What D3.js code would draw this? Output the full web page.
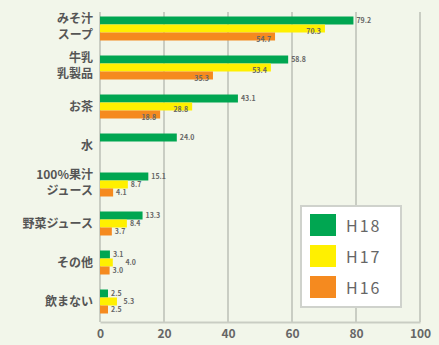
<!DOCTYPE html>
<html>
<head>
<meta charset="utf-8">
<script src="https://cdn.jsdelivr.net/npm/d3@7"></script>
<style>
  body { margin: 0; background: #f2f6ea; }
  text { font-family: "Noto Sans CJK JP", "Noto Sans", sans-serif; }
</style>
</head>
<body>
<div id="chart"></div>
<script>
// categories (two-line labels split by "\n")
var categories = ["みそ汁\nスープ", "牛乳\n乳製品", "お茶", "水", "100%果汁\nジュース", "野菜ジュース", "その他", "飲まない"];
var seriesNames = ["H18", "H17", "H16"];
var h18 = [79.2, 58.8, 43.1, 24.0, 15.1, 13.3, 3.1, 2.5];
var h17 = [70.3, 53.4, 28.8, null, 8.7, 8.4, 4.0, 5.3];
var h16 = [54.7, 35.3, 18.8, null, 4.1, 3.7, 3.0, 2.5];
var xTicks = [0, 20, 40, 60, 80, 100];
var colors = ["#00a651", "#fff000", "#f58a1f"];

var svgWidth = 439;
var svgHeight = 345;

var svg = d3.select("#chart")
  .append("svg")
  .attr("width", svgWidth)
  .attr("height", svgHeight);

svg.append("rect")
  .attr("width", svgWidth)
  .attr("height", svgHeight)
  .attr("fill", "#f2f6ea");

var x = d3.scaleLinear().domain([0, 100]).range([100, 420]);
var y = d3.scaleBand().domain(categories).range([10, 320]).paddingInner(0.385).paddingOuter(0.167);
var ySub = d3.scaleBand().domain(seriesNames).range([0, y.bandwidth()]);

// gridlines
svg.append("g")
  .selectAll("line")
  .data(xTicks)
  .enter()
  .append("line")
  .attr("x1", d => x(d))
  .attr("x2", d => x(d))
  .attr("y1", 12)
  .attr("y2", 322)
  .attr("stroke", "#c9cdc3")
  .attr("stroke-width", 2);

// bottom axis
var xAxis = svg.append("g")
  .attr("transform", "translate(0,322)")
  .call(d3.axisBottom(x).tickValues(xTicks).tickSize(0).tickPadding(7));
xAxis.select(".domain").attr("stroke", "#c9cdc3").attr("stroke-width", 2);
xAxis.selectAll("text")
  .attr("font-size", 12)
  .attr("font-weight", "bold")
  .attr("fill", "#666");

// bars
var rows = [];
categories.forEach(function(c, i) {
  [h18, h17, h16].forEach(function(arr, j) {
    if (arr[i] !== null) rows.push({cat: c, series: seriesNames[j], value: arr[i], color: colors[j]});
  });
});

svg.append("g")
  .selectAll("rect")
  .data(rows)
  .enter()
  .append("rect")
  .attr("x", x(0))
  .attr("y", d => y(d.cat) + ySub(d.series))
  .attr("width", d => x(d.value) - x(0))
  .attr("height", ySub.bandwidth())
  .attr("fill", d => d.color);

// value labels: big H17/H16 values sit inside the bar end, the rest outside
function inside(d) { return d.series !== "H18" && d.value > 15; }

var valueLabels = svg.append("g")
  .selectAll("text")
  .data(rows)
  .enter()
  .append("text")
  .attr("x", d => inside(d) ? x(d.value) - 4 : x(d.value) + 3)
  .attr("text-anchor", d => inside(d) ? "end" : "start")
  .attr("y", d => y(d.cat) + ySub(d.series) + ySub.bandwidth() / 2 + (inside(d) ? 3 : 0))
  .attr("dy", "0.35em")
  .attr("font-family", "Liberation Sans, Arial, sans-serif")
  .attr("font-size", 7)
  .attr("font-weight", "bold")
  .attr("fill", "#666")
  .text(d => d.value.toFixed(1));

// nudge stacked small labels sideways only when they really collide
var prev = null;
valueLabels.each(function(d) {
  var el = d3.select(this);
  if (inside(d)) { prev = null; return; }
  var lx = +el.attr("x");
  var w = this.getComputedTextLength();
  if (prev && prev.cat === d.cat && lx < prev.right + 2 && lx + w > prev.left - 2) {
    lx = prev.right + 2;
    el.attr("x", lx);
  }
  prev = {cat: d.cat, left: lx, right: lx + w};
});

// category labels
var catLabels = svg.append("g")
  .selectAll("text")
  .data(categories)
  .enter()
  .append("text")
  .attr("text-anchor", "end")
  .attr("font-size", 12)
  .attr("font-weight", "bold")
  .attr("fill", "#555");

catLabels.each(function(d) {
  var lines = d.split("\n");
  var cy = y(d) + y.bandwidth() / 2;
  var t = d3.select(this);
  if (lines.length === 1) {
    t.append("tspan").attr("x", 93).attr("y", cy).attr("dy", "0.35em").text(lines[0]);
  } else {
    t.append("tspan").attr("x", 93).attr("y", cy - 10).attr("dy", "0.35em").text(lines[0]);
    t.append("tspan").attr("x", 93).attr("y", cy + 6).attr("dy", "0.35em").text(lines[1]);
  }
});

// legend
var legend = svg.append("g").attr("transform", "translate(301,206)");
legend.append("rect")
  .attr("width", 100)
  .attr("height", 101)
  .attr("fill", "#fff")
  .attr("stroke", "#cfd2cc")
  .attr("stroke-width", 2);

var items = legend.selectAll("g.item")
  .data(seriesNames)
  .enter()
  .append("g")
  .attr("transform", (d, i) => `translate(9, ${8 + i * 31})`);

items.append("rect")
  .attr("width", 26)
  .attr("height", 22)
  .attr("fill", (d, i) => colors[i]);

items.append("text")
  .attr("x", 36)
  .attr("y", 11)
  .attr("dominant-baseline", "central")
  .attr("font-family", "DejaVu Sans, sans-serif")
  .attr("font-size", 16)
  .attr("letter-spacing", 2)
  .attr("fill", "#666")
  .text(d => d);
</script>
</body>
</html>
